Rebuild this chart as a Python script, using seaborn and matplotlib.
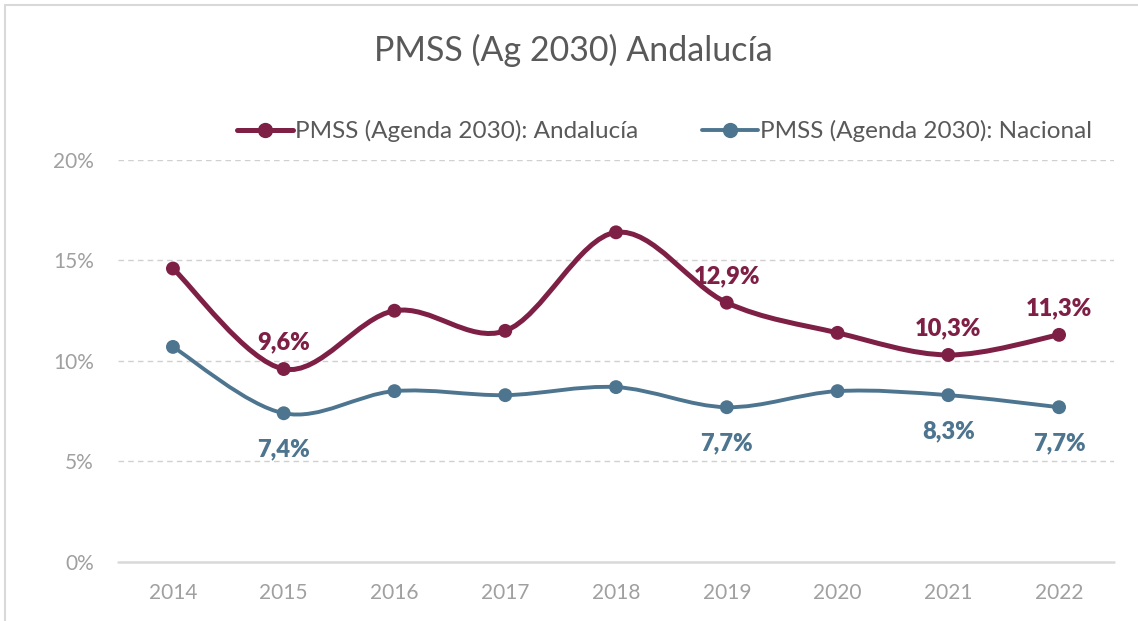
import numpy as np
import pandas as pd
import seaborn as sns
import matplotlib.pyplot as plt
from matplotlib.path import Path
from matplotlib.patches import PathPatch, Rectangle
from matplotlib.lines import Line2D
from matplotlib.ticker import FuncFormatter

# data (percent)
years = [2014, 2015, 2016, 2017, 2018, 2019, 2020, 2021, 2022]
andalucia = [14.6, 9.6, 12.5, 11.5, 16.4, 12.9, 11.4, 10.3, 11.3]
nacional = [10.7, 7.4, 8.5, 8.3, 8.7, 7.7, 8.5, 8.3, 7.7]
label_andalucia = ["Andalucía", "PMSS (Agenda 2030): Andalucía"]
label_nacional = ["Nacional", "PMSS (Agenda 2030): Nacional"]
shown_and = [2015, 2019, 2021, 2022]
shown_nac = [2015, 2019, 2021, 2022]

c_and = "#7E1F45"
c_nac = "#4E758F"
grey_txt = "#A0A0A0"

sns.set_theme(style="white")
plt.rcParams["font.family"] = ["Lato", "DejaVu Sans"]

df = pd.DataFrame({"pos": list(range(len(years))) * 2,
                   "valor": andalucia + nacional,
                   "serie": [label_andalucia[0]] * len(years) + [label_nacional[0]] * len(years)})

fig = plt.figure(figsize=(11.38, 6.21), dpi=100)
ax = fig.add_axes([0.1033, 0.095, 0.8760, 0.6474])


def smooth_path(xs, ys):
    # excel-like smoothed line: cubic bezier through the points
    xs = np.asarray(xs, float)
    ys = np.asarray(ys, float)
    verts = [(xs[0], ys[0])]
    codes = [Path.MOVETO]
    n = len(xs)
    for i in range(n - 1):
        p0 = (xs[max(i - 1, 0)], ys[max(i - 1, 0)])
        p1 = (xs[i], ys[i])
        p2 = (xs[i + 1], ys[i + 1])
        p3 = (xs[min(i + 2, n - 1)], ys[min(i + 2, n - 1)])
        c1 = (p1[0] + (p2[0] - p0[0]) / 6, p1[1] + (p2[1] - p0[1]) / 6)
        c2 = (p2[0] - (p3[0] - p1[0]) / 6, p2[1] - (p3[1] - p1[1]) / 6)
        verts += [c1, c2, p2]
        codes += [Path.CURVE4] * 3
    return Path(verts, codes)


x = np.arange(len(years))
ax.add_patch(PathPatch(smooth_path(x, andalucia), fill=False, edgecolor=c_and, lw=3.6, zorder=3,
                       capstyle="round", joinstyle="round"))
ax.add_patch(PathPatch(smooth_path(x, nacional), fill=False, edgecolor=c_nac, lw=2.8, zorder=3,
                       capstyle="round", joinstyle="round"))

sns.scatterplot(data=df, x="pos", y="valor", hue="serie",
                palette={label_andalucia[0]: c_and, label_nacional[0]: c_nac},
                s=100, edgecolor="none", legend=False, zorder=4, ax=ax)

# data labels
for yr, v in zip(years, andalucia):
    if yr in shown_and:
        ax.annotate(f"{v:.1f}%".replace(".", ","), (years.index(yr), v), xytext=(0, 11),
                    textcoords="offset points", ha="center", va="bottom",
                    color=c_and, fontsize=17, fontweight="heavy")
for yr, v in zip(years, nacional):
    if yr in shown_nac:
        ax.annotate(f"{v:.1f}%".replace(".", ","), (years.index(yr), v), xytext=(0, -18),
                    textcoords="offset points", ha="center", va="top",
                    color=c_nac, fontsize=17, fontweight="heavy")

ax.set_xlim(-0.5, len(years) - 0.5)
ax.set_ylim(0, 20)
ax.set_xticks(x)
ax.set_xticklabels([str(y) for y in years])
ax.set_yticks([0, 5, 10, 15, 20])
ax.yaxis.set_major_formatter(FuncFormatter(lambda v, p: f"{v:.0f}%"))
ax.tick_params(axis="both", length=0, labelsize=15, labelcolor=grey_txt)
ax.tick_params(axis="y", pad=17)
ax.tick_params(axis="x", pad=15)
ax.set_xlabel("")
ax.set_ylabel("")
for v in [5, 10, 15, 20]:
    ax.axhline(v, color="#D0D0D0", lw=1.0, ls=(0, (4, 3)), zorder=1)
ax.axhline(0, color="#D9D9D9", lw=1.8, zorder=1, clip_on=False)
for s in ax.spines.values():
    s.set_visible(False)

handles = [Line2D([], [], color=c_and, lw=3.6, marker="o", markersize=10, label=label_andalucia[1]),
           Line2D([], [], color=c_nac, lw=2.8, marker="o", markersize=10, label=label_nacional[1])]
fig.legend(handles=handles, loc="center", bbox_to_anchor=(0.584, 0.789), ncol=2, frameon=False,
           fontsize=17.5, labelcolor="#595959", handlelength=2.3, handletextpad=0.1, columnspacing=2.6)

fig.suptitle("PMSS (Ag 2030) Andalucía", x=0.504, y=0.945, fontsize=24.5, color="#595959")

fig.add_artist(Rectangle((0.004, -0.1), 1.2, 1.1 - 0.008, transform=fig.transFigure,
                         fill=False, edgecolor="#D9D9D9", lw=1.5))

fig.savefig("out.png", dpi=100)
